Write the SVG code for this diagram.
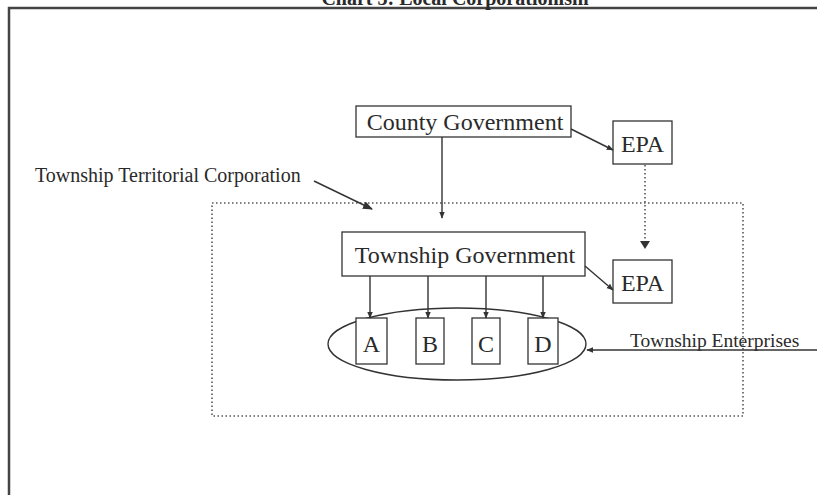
<svg xmlns="http://www.w3.org/2000/svg" width="817" height="495" viewBox="0 0 817 495">
  <style>
    text { font-family: "Liberation Serif", "Times New Roman", serif; fill: #2a2a2a; }
    .box { fill: #fff; stroke: #333; stroke-width: 1.3; }
    .line { stroke: #333; stroke-width: 1.4; fill: none; }
    .dots { stroke: #555; stroke-width: 1.6; fill: none; stroke-dasharray: 1.5 2.5; }
    .frame { stroke: #444; stroke-width: 2.5; fill: none; }
  </style>
  <defs>
    <marker id="head" viewBox="0 0 10 10" refX="9" refY="5" markerWidth="7" markerHeight="7" orient="auto" markerUnits="userSpaceOnUse">
      <path d="M0,1 L10,5 L0,9 z" fill="#333"/>
    </marker>
    <marker id="bighead" viewBox="0 0 10 10" refX="9" refY="5" markerWidth="10" markerHeight="10" orient="auto" markerUnits="userSpaceOnUse">
      <path d="M0,1 L10,5 L0,9 z" fill="#333"/>
    </marker>
  </defs>

  <rect width="817" height="495" fill="#fff"/>

  <!-- page frame and title above it -->
  <path class="frame" d="M9,495 L9,8 L817,8"/>
  <text x="455" y="5" font-size="20" font-weight="bold" text-anchor="middle">Chart 3: Local Corporationism</text>

  <!-- territorial corporation boundary -->
  <g id="territory">
    <rect class="dots" x="212" y="203" width="531" height="213"/>
  </g>

  <g id="label-territory">
    <text x="35" y="182" font-size="20">Township Territorial Corporation</text>
  </g>

  <g id="county-government">
    <rect class="box" x="356" y="106" width="215" height="31"/>
    <text x="465" y="130" font-size="24" text-anchor="middle">County Government</text>
  </g>

  <g id="epa-county">
    <rect class="box" x="613" y="121" width="59" height="43"/>
    <text x="642.5" y="152" font-size="24" text-anchor="middle">EPA</text>
  </g>

  <g id="township-government">
    <rect class="box" x="342" y="232" width="243" height="44"/>
    <text x="465" y="263" font-size="24" text-anchor="middle">Township Government</text>
  </g>

  <g id="epa-township">
    <rect class="box" x="613" y="260" width="59" height="43"/>
    <text x="642.5" y="291" font-size="24" text-anchor="middle">EPA</text>
  </g>

  <g id="enterprises">
    <ellipse class="line" cx="457" cy="344" rx="129" ry="36"/>
  </g>
  <g id="enterprise-a">
    <rect class="box" x="356" y="318" width="31" height="46"/>
    <text x="371.5" y="352" font-size="24" text-anchor="middle">A</text>
  </g>
  <g id="enterprise-b">
    <rect class="box" x="416" y="318" width="28" height="46"/>
    <text x="430" y="352" font-size="24" text-anchor="middle">B</text>
  </g>
  <g id="enterprise-c">
    <rect class="box" x="472" y="318" width="28" height="46"/>
    <text x="486" y="352" font-size="24" text-anchor="middle">C</text>
  </g>
  <g id="enterprise-d">
    <rect class="box" x="528" y="318" width="30" height="46"/>
    <text x="543" y="352" font-size="24" text-anchor="middle">D</text>
  </g>

  <g id="label-enterprises">
    <text x="630" y="347" font-size="19.5">Township Enterprises</text>
  </g>

  <!-- connectors -->
  <g id="connectors">
    <line class="line" x1="314" y1="181" x2="372" y2="209" marker-end="url(#bighead)"/>
    <line class="line" x1="442" y1="137" x2="442" y2="218" marker-end="url(#head)"/>
    <line class="line" x1="571" y1="129" x2="613" y2="150" marker-end="url(#head)"/>
    <line class="dots" x1="645" y1="165" x2="645" y2="241"/>
    <path d="M640,241 L645,249 L650,241 z" fill="#333"/>
    <line class="line" x1="585" y1="266" x2="613" y2="290" marker-end="url(#head)"/>
    <line class="line" x1="370" y1="276" x2="370" y2="318" marker-end="url(#head)"/>
    <line class="line" x1="428" y1="276" x2="428" y2="318" marker-end="url(#head)"/>
    <line class="line" x1="486" y1="276" x2="486" y2="318" marker-end="url(#head)"/>
    <line class="line" x1="543" y1="276" x2="543" y2="318" marker-end="url(#head)"/>
    <line class="line" x1="817" y1="350" x2="587" y2="350" marker-end="url(#head)"/>
  </g>
</svg>
